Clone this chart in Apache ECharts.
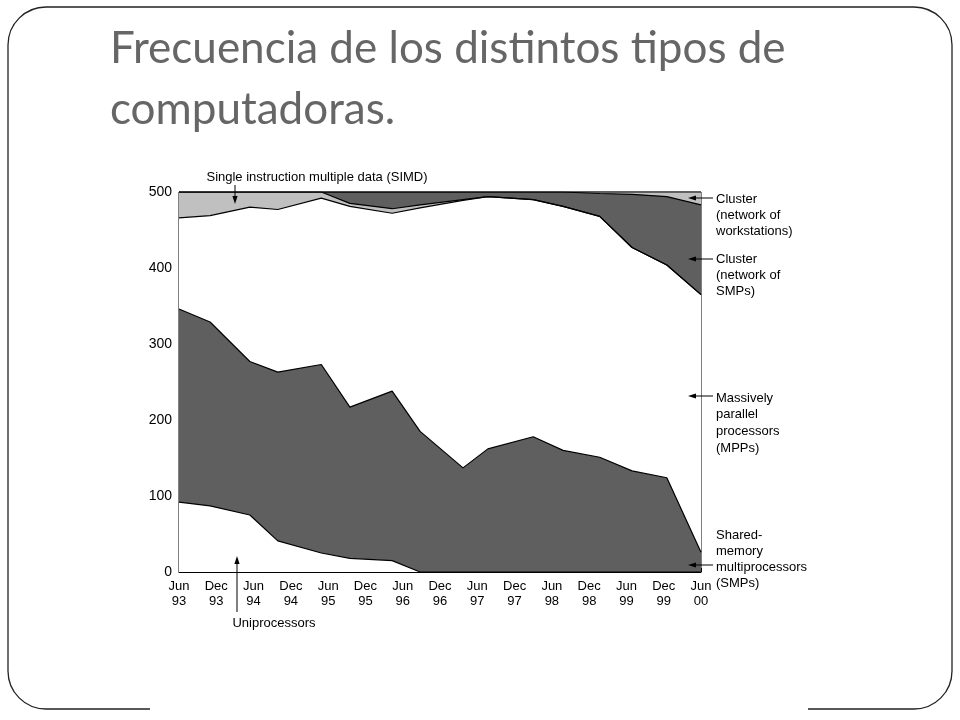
<!DOCTYPE html>
<html>
<head>
<meta charset="utf-8">
<script src="https://cdn.jsdelivr.net/npm/echarts@6/dist/echarts.min.js"></script>
<style>
  html, body { margin: 0; padding: 0; background: #fff; }
  #main { width: 960px; height: 720px; }
</style>
</head>
<body>
<div id="main"></div>
<script>
// months since Jun 93 of each list
var months = [0, 5, 11.4, 15.9, 22.9, 27.5, 34.3, 38.8, 45.7, 49.7, 57, 61.8, 67.7, 72.9, 78.5, 84];
var xLabels = ['Jun\n93', 'Dec\n93', 'Jun\n94', 'Dec\n94', 'Jun\n95', 'Dec\n95', 'Jun\n96', 'Dec\n96',
               'Jun\n97', 'Dec\n97', 'Jun\n98', 'Dec\n98', 'Jun\n99', 'Dec\n99', 'Jun\n00'];
var yTicks = [0, 100, 200, 300, 400, 500];

// number of systems of each type (bottom to top)
var uni     = [92, 87, 75, 41, 25, 18, 15, 0, 0, 0, 0, 0, 0, 0, 0, 0];
var smp     = [254, 242, 202, 222, 248, 199, 223, 185, 137, 162, 178, 160, 151, 133, 124, 26];
var mpp     = [120, 140, 203, 214, 219, 264, 234, 294, 352, 332, 312, 321, 317, 294, 280, 339];
var simd    = [34, 31, 20, 23, 8, 4, 6, 4, 1, 0, 0, 0, 0, 0, 0, 0];
var clSmp   = [0, 0, 0, 0, 0, 15, 22, 17, 10, 6, 10, 19, 30, 70, 90, 118];
var clNow   = [0, 0, 0, 0, 0, 0, 0, 0, 0, 0, 0, 0, 2, 3, 6, 17];

var DARK = '#5f5f5f';
var LIGHT = '#c0c0c0';
var FONT = '"Liberation Sans", Arial, sans-serif';

var layers = [
    { name: 'Uniprocessors', vals: uni, fill: '#fff' },
    { name: 'SMPs', vals: smp, fill: DARK },
    { name: 'MPPs', vals: mpp, fill: '#fff' },
    { name: 'SIMD', vals: simd, fill: LIGHT },
    { name: 'Cluster (network of SMPs)', vals: clSmp, fill: DARK },
    { name: 'Cluster (network of workstations)', vals: clNow, fill: LIGHT }
];

// running totals, each area drawn from 0 and covered by the ones below it
var running = months.map(function () { return 0; });
var series = layers.map(function (l) {
    running = running.map(function (s, i) { return s + l.vals[i]; });
    return {
        name: l.name,
        type: 'line',
        data: running.map(function (v, i) { return [months[i], v]; }),
        symbol: 'none',
        lineStyle: { color: '#000', width: 1.2 },
        areaStyle: { color: l.fill, opacity: 1 }
    };
}).reverse();

function arrow(x1, y1, x2, y2) {
    var dx = x2 - x1, dy = y2 - y1;
    var len = Math.sqrt(dx * dx + dy * dy);
    var ux = dx / len, uy = dy / len;
    var hl = 8, hw = 2.6;
    var bx = x2 - ux * hl, by = y2 - uy * hl;
    return [
        { type: 'line', shape: { x1: x1, y1: y1, x2: bx, y2: by }, style: { stroke: '#000', lineWidth: 1 }, z: 10 },
        { type: 'polygon', shape: { points: [[x2, y2], [bx - uy * hw, by + ux * hw], [bx + uy * hw, by - ux * hw]] },
          style: { fill: '#000' }, z: 10 }
    ];
}

function note(text, x, y, align, lh) {
    return {
        type: 'text', z: 10,
        style: { text: text, x: x, y: y, fill: '#000', font: '13px ' + FONT, lineHeight: lh || 16,
                 align: align || 'left', verticalAlign: 'top' }
    };
}

var graphics = [
    { type: 'rect', shape: { x: 8, y: 7, width: 944, height: 702, r: 38 },
      style: { fill: 'none', stroke: '#222', lineWidth: 1.3 }, z: 0 },
    { type: 'rect', shape: { x: 150, y: 703, width: 658, height: 12 }, style: { fill: '#fff' }, z: 1 },
    note('Single instruction multiple data (SIMD)', 317, 169, 'center'),
    note('Uniprocessors', 274, 615, 'center'),
    note('Cluster\n(network of\nworkstations)', 716, 191),
    note('Cluster\n(network of\nSMPs)', 716, 251),
    note('Massively\nparallel\nprocessors\n(MPPs)', 716, 390, 'left', 16.6),
    note('Shared-\nmemory\nmultiprocessors\n(SMPs)', 716, 527)
]
.concat(arrow(235, 185, 235, 204))
.concat(arrow(237, 612, 237, 556))
.concat(arrow(713, 198, 688, 198))
.concat(arrow(713, 259, 688, 259))
.concat(arrow(713, 396, 688, 396))
.concat(arrow(713, 565, 688, 565));

var myChart = echarts.init(document.getElementById('main'));
var option = {
    backgroundColor: '#fff',
    animation: false,
    title: {
        text: 'Frecuencia de los distintos tipos de\ncomputadoras.',
        left: 105,
        top: 13,
        textStyle: { fontFamily: 'Lato', fontSize: 44, fontWeight: 'normal', color: '#666', lineHeight: 61 }
    },
    grid: {
        left: 179, top: 192, width: 522, height: 380,
        show: true, borderColor: '#000', borderWidth: 1, backgroundColor: 'transparent'
    },
    xAxis: {
        type: 'value', min: 0, max: 84, interval: 6,
        axisLine: { lineStyle: { color: '#000', width: 1 } },
        axisTick: { inside: true, length: 4, lineStyle: { color: '#000' } },
        splitLine: { show: false },
        axisLabel: {
            color: '#000', fontFamily: FONT, fontSize: 13, lineHeight: 15, margin: 7,
            formatter: function (v) { return xLabels[Math.round(v / 6)]; }
        }
    },
    yAxis: {
        type: 'value', min: yTicks[0], max: yTicks[yTicks.length - 1], interval: 100,
        axisLine: { show: true, lineStyle: { color: '#000', width: 1 } },
        axisTick: { show: false },
        splitLine: { show: false },
        axisLabel: { color: '#000', fontFamily: FONT, fontSize: 14, margin: 7 }
    },
    series: series,
    graphic: graphics
};
myChart.setOption(option);
</script>
</body>
</html>
